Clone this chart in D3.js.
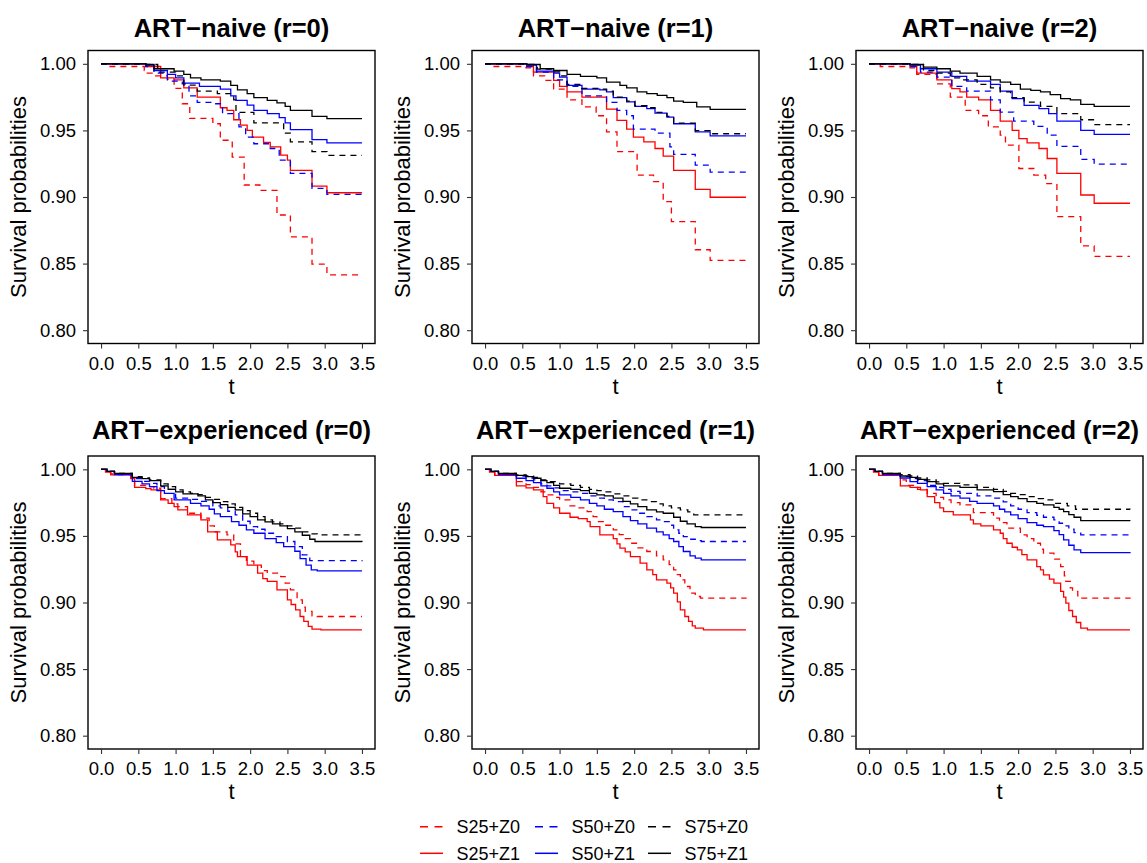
<!DOCTYPE html>
<html>
<head>
<meta charset="utf-8">
<script src="https://cdn.jsdelivr.net/npm/d3@7"></script>
<style>
  html, body { margin: 0; padding: 0; background: #fff; }
  svg text { font-family: "Liberation Sans", Arial, Helvetica, sans-serif; fill: #000; }
</style>
</head>
<body>
<svg id="chart" width="1147" height="863"></svg>
<script>
// ---- Axis ticks -----------------------------------------------------------
const xTicks = [0, 0.5, 1.0, 1.5, 2.0, 2.5, 3.0, 3.5];
const yTicks = [0.80, 0.85, 0.90, 0.95, 1.00];

// ---- Series ---------------------------------------------------------------
const seriesNames = ["S25+Z0", "S25+Z1", "S50+Z0", "S50+Z1", "S75+Z0", "S75+Z1"];
const seriesColors = ["#ff0000", "#ff0000", "#0000ff", "#0000ff", "#000000", "#000000"];
const seriesDashed = [true, false, true, false, true, false];

// ---- Survival curves, [time, survival] at each step ----------------------
// ART-naive, r = 0
const naiveR0_S25Z0 = [[0,1],[0.1,0.998],[0.58,0.995],[0.62,0.993],[0.71,0.991],[0.89,0.9885],[0.98,0.9815],[1.09,0.970],[1.19,0.959],[1.5,0.955],[1.6,0.9426],[1.76,0.930],[1.92,0.909],[2.13,0.905],[2.36,0.8865],[2.54,0.870],[2.83,0.8496],[3.03,0.8416],[3.46,0.8416]];
const naiveR0_S25Z1 = [[0,1],[0.6,0.998],[0.8,0.9895],[0.98,0.988],[1.11,0.982],[1.29,0.975],[1.6,0.967],[1.69,0.965],[1.78,0.958],[1.87,0.954],[1.96,0.950],[2.03,0.945],[2.18,0.941],[2.27,0.9377],[2.41,0.9314],[2.5,0.9277],[2.54,0.920],[2.83,0.9082],[3.03,0.9032],[3.5,0.9032]];
const naiveR0_S50Z0 = [[0,1],[0.6,0.998],[0.71,0.993],[0.89,0.987],[1.09,0.985],[1.18,0.976],[1.29,0.971],[1.52,0.970],[1.63,0.9626],[1.85,0.9526],[1.94,0.945],[2.05,0.940],[2.27,0.9364],[2.39,0.9277],[2.54,0.9177],[2.83,0.9065],[3.03,0.902],[3.5,0.902]];
const naiveR0_S50Z1 = [[0,1],[0.6,0.999],[0.71,0.995],[0.89,0.992],[1.0,0.9895],[1.11,0.9855],[1.32,0.983],[1.6,0.981],[1.74,0.976],[1.81,0.9726],[1.96,0.969],[2.05,0.965],[2.23,0.9626],[2.39,0.9596],[2.47,0.9556],[2.54,0.9506],[2.83,0.9431],[3.03,0.9406],[3.5,0.9406]];
const naiveR0_S75Z0 = [[0,1],[0.6,0.9995],[0.76,0.9938],[1.0,0.991],[1.11,0.984],[1.29,0.9795],[1.56,0.9776],[1.78,0.973],[1.81,0.9635],[2.05,0.9556],[2.45,0.948],[2.54,0.9414],[2.83,0.934],[3.03,0.9312],[3.5,0.9312]];
const naiveR0_S75Z1 = [[0,1],[0.6,0.9995],[0.71,0.9963],[0.98,0.9945],[1.11,0.992],[1.2,0.9895],[1.34,0.988],[1.6,0.987],[1.74,0.9838],[1.83,0.9805],[1.96,0.9776],[2.05,0.9746],[2.23,0.9726],[2.36,0.9706],[2.47,0.968],[2.54,0.965],[2.83,0.9606],[3.03,0.9589],[3.5,0.9589]];

// ART-naive, r = 1
const naiveR1_S25Z0 = [[0,1],[0.1,0.998],[0.55,0.997],[0.65,0.991],[0.8,0.9875],[0.92,0.981],[1.1,0.973],[1.3,0.9676],[1.49,0.961],[1.63,0.9489],[1.77,0.934],[2.04,0.9165],[2.26,0.9115],[2.39,0.8965],[2.5,0.8815],[2.82,0.8604],[3.02,0.8524],[3.5,0.8524]];
const naiveR1_S25Z1 = [[0,1],[0.56,0.998],[0.65,0.9938],[0.92,0.9875],[1.0,0.983],[1.1,0.979],[1.3,0.975],[1.63,0.966],[1.77,0.9576],[1.9,0.951],[1.99,0.945],[2.13,0.9414],[2.28,0.9364],[2.39,0.9307],[2.53,0.920],[2.82,0.9057],[3.02,0.8998],[3.5,0.8998]];
const naiveR1_S50Z0 = [[0,1],[0.56,0.998],[0.69,0.9938],[0.92,0.988],[1.1,0.983],[1.3,0.976],[1.63,0.971],[1.77,0.965],[1.9,0.961],[1.99,0.951],[2.28,0.948],[2.48,0.9377],[2.53,0.932],[2.82,0.924],[3.02,0.9187],[3.5,0.9187]];
const naiveR1_S50Z1 = [[0,1],[0.56,0.999],[0.69,0.9945],[0.92,0.993],[1.0,0.990],[1.1,0.9838],[1.3,0.981],[1.54,0.9805],[1.63,0.979],[1.72,0.9746],[1.9,0.9715],[2.01,0.968],[2.17,0.9663],[2.28,0.963],[2.44,0.960],[2.53,0.955],[2.82,0.9489],[3.02,0.9459],[3.5,0.9459]];
const naiveR1_S75Z0 = [[0,1],[0.56,0.9995],[0.7,0.996],[0.92,0.994],[1.0,0.991],[1.1,0.9845],[1.3,0.9815],[1.54,0.981],[1.63,0.9795],[1.72,0.975],[1.9,0.972],[2.01,0.9685],[2.17,0.967],[2.28,0.9635],[2.44,0.9605],[2.53,0.9555],[2.82,0.9499],[3.02,0.9475],[3.5,0.9475]];
const naiveR1_S75Z1 = [[0,1],[0.56,0.9995],[0.74,0.9963],[0.92,0.995],[1.1,0.992],[1.28,0.9905],[1.5,0.9895],[1.63,0.9863],[1.81,0.9838],[1.9,0.982],[2.04,0.979],[2.17,0.9776],[2.31,0.9763],[2.44,0.9746],[2.53,0.972],[2.66,0.971],[2.84,0.9676],[3.02,0.9658],[3.5,0.9658]];

// ART-naive, r = 2
const naiveR2_S25Z0 = [[0,1],[0.15,0.998],[0.55,0.997],[0.64,0.992],[0.91,0.985],[1.09,0.975],[1.29,0.965],[1.47,0.961],[1.6,0.9526],[1.76,0.9464],[1.83,0.939],[2.01,0.9214],[2.21,0.9165],[2.37,0.910],[2.52,0.8853],[2.84,0.8633],[3.02,0.8554],[3.5,0.8554]];
const naiveR2_S25Z1 = [[0,1],[0.55,0.998],[0.64,0.993],[0.91,0.988],[1.11,0.9813],[1.22,0.979],[1.31,0.975],[1.47,0.973],[1.63,0.965],[1.76,0.957],[1.92,0.950],[2.01,0.9439],[2.12,0.9406],[2.28,0.9364],[2.39,0.9289],[2.52,0.9177],[2.84,0.9015],[3.02,0.8953],[3.5,0.8953]];
const naiveR2_S50Z0 = [[0,1],[0.55,0.998],[0.69,0.9938],[0.91,0.990],[1.11,0.983],[1.31,0.9795],[1.63,0.973],[1.76,0.9638],[1.94,0.957],[2.21,0.953],[2.39,0.9464],[2.52,0.938],[2.84,0.9282],[3.02,0.9247],[3.5,0.9247]];
const naiveR2_S50Z1 = [[0,1],[0.55,0.999],[0.69,0.9963],[0.91,0.9938],[1.11,0.9905],[1.31,0.987],[1.63,0.9845],[1.76,0.9795],[1.92,0.9738],[2.08,0.9688],[2.28,0.9663],[2.41,0.9626],[2.52,0.957],[2.84,0.950],[3.02,0.947],[3.5,0.947]];
const naiveR2_S75Z0 = [[0,1],[0.55,0.9995],[0.73,0.995],[0.91,0.993],[1.09,0.9895],[1.22,0.988],[1.45,0.9845],[1.63,0.982],[1.76,0.979],[1.9,0.9746],[2.08,0.9713],[2.3,0.968],[2.52,0.9626],[2.84,0.958],[3.02,0.9544],[3.5,0.9544]];
const naiveR2_S75Z1 = [[0,1],[0.55,0.9995],[0.73,0.9975],[0.91,0.9963],[1.09,0.9945],[1.22,0.993],[1.45,0.9905],[1.63,0.988],[1.76,0.9863],[1.9,0.9845],[2.03,0.981],[2.17,0.980],[2.3,0.979],[2.43,0.9768],[2.57,0.9738],[2.7,0.973],[2.84,0.9696],[3.02,0.968],[3.5,0.968]];

// ART-experienced, r = 0
const expR0_S25Z0 = [[0,1],[0.06,0.998],[0.13,0.9965],[0.4,0.9935],[0.45,0.988],[0.6,0.987],[0.71,0.9858],[0.8,0.978],[0.95,0.974],[1.03,0.972],[1.16,0.967],[1.34,0.9633],[1.45,0.9575],[1.52,0.953],[1.69,0.9508],[1.78,0.944],[1.87,0.9345],[1.95,0.931],[2.05,0.928],[2.15,0.924],[2.23,0.922],[2.41,0.9195],[2.47,0.9145],[2.54,0.9095],[2.63,0.902],[2.7,0.8965],[2.74,0.8933],[2.83,0.890],[2.9,0.8895],[3.5,0.8895]];
const expR0_S25Z1 = [[0,1],[0.06,0.998],[0.13,0.9958],[0.4,0.993],[0.45,0.9865],[0.6,0.9855],[0.67,0.9845],[0.8,0.977],[0.9,0.9745],[0.98,0.972],[1.03,0.9695],[1.16,0.9658],[1.34,0.962],[1.43,0.953],[1.56,0.947],[1.74,0.9433],[1.8,0.938],[1.83,0.9345],[1.96,0.928],[2.1,0.922],[2.17,0.918],[2.23,0.9158],[2.36,0.9095],[2.5,0.902],[2.55,0.8985],[2.61,0.8945],[2.67,0.8895],[2.72,0.8858],[2.78,0.882],[2.83,0.880],[2.95,0.8795],[3.5,0.8795]];
const expR0_S50Z0 = [[0,1],[0.08,0.9985],[0.18,0.996],[0.42,0.993],[0.55,0.991],[0.65,0.9895],[0.75,0.987],[0.85,0.985],[1.0,0.9783],[1.2,0.9775],[1.35,0.976],[1.5,0.9725],[1.6,0.971],[1.7,0.9685],[1.8,0.9658],[1.9,0.961],[2.0,0.957],[2.1,0.955],[2.2,0.952],[2.35,0.9495],[2.5,0.9458],[2.6,0.942],[2.7,0.9358],[2.8,0.9315],[3.5,0.931]];
const expR0_S50Z1 = [[0,1],[0.08,0.9985],[0.18,0.996],[0.42,0.991],[0.55,0.989],[0.65,0.987],[0.75,0.984],[0.85,0.982],[0.98,0.977],[1.2,0.9745],[1.34,0.9725],[1.45,0.970],[1.52,0.9665],[1.6,0.9645],[1.75,0.9608],[1.85,0.958],[1.95,0.9545],[2.05,0.952],[2.2,0.948],[2.35,0.945],[2.45,0.942],[2.6,0.9385],[2.67,0.933],[2.75,0.928],[2.82,0.9245],[2.9,0.9238],[3.5,0.9238]];
const expR0_S75Z0 = [[0,1],[0.08,0.9985],[0.18,0.997],[0.42,0.9945],[0.55,0.9935],[0.65,0.992],[0.8,0.989],[0.9,0.987],[1.0,0.9845],[1.1,0.983],[1.2,0.982],[1.3,0.981],[1.4,0.979],[1.5,0.9775],[1.6,0.9758],[1.7,0.974],[1.8,0.9715],[1.9,0.969],[2.0,0.967],[2.1,0.9645],[2.2,0.962],[2.3,0.9605],[2.4,0.959],[2.5,0.9575],[2.6,0.9558],[2.7,0.953],[2.8,0.9515],[2.9,0.9508],[3.5,0.9508]];
const expR0_S75Z1 = [[0,1],[0.08,0.9985],[0.18,0.997],[0.42,0.994],[0.55,0.993],[0.65,0.9915],[0.8,0.9875],[0.9,0.985],[1.0,0.983],[1.1,0.9815],[1.3,0.980],[1.4,0.977],[1.5,0.975],[1.6,0.9735],[1.7,0.9715],[1.8,0.9695],[1.9,0.9665],[2.0,0.9645],[2.1,0.962],[2.2,0.9605],[2.3,0.959],[2.4,0.9575],[2.5,0.9555],[2.6,0.953],[2.7,0.9505],[2.8,0.9475],[2.87,0.9458],[3.5,0.9455]];

// ART-experienced, r = 1
const expR1_S25Z0 = [[0,1],[0.06,0.998],[0.13,0.9955],[0.42,0.9908],[0.55,0.9885],[0.65,0.9865],[0.75,0.983],[0.83,0.9808],[0.92,0.979],[1.0,0.977],[1.14,0.9725],[1.25,0.971],[1.37,0.9683],[1.45,0.9645],[1.5,0.9608],[1.6,0.958],[1.72,0.9545],[1.8,0.951],[1.88,0.948],[1.95,0.9445],[2.05,0.941],[2.17,0.9383],[2.3,0.935],[2.39,0.932],[2.47,0.9285],[2.53,0.9245],[2.58,0.921],[2.62,0.917],[2.68,0.912],[2.75,0.907],[2.82,0.9045],[2.89,0.9033],[3.5,0.9028]];
const expR1_S25Z1 = [[0,1],[0.06,0.998],[0.13,0.9955],[0.42,0.9875],[0.55,0.986],[0.65,0.9845],[0.78,0.9795],[0.83,0.9745],[0.92,0.971],[1.0,0.967],[1.14,0.964],[1.25,0.963],[1.37,0.9608],[1.41,0.957],[1.54,0.9508],[1.72,0.948],[1.77,0.944],[1.81,0.9408],[1.88,0.938],[1.95,0.9345],[2.08,0.9295],[2.17,0.9245],[2.25,0.921],[2.3,0.917],[2.44,0.9145],[2.49,0.911],[2.53,0.907],[2.58,0.9005],[2.62,0.8945],[2.68,0.8895],[2.73,0.8858],[2.78,0.8825],[2.82,0.8808],[2.93,0.8795],[3.5,0.8795]];
const expR1_S50Z0 = [[0,1],[0.08,0.9985],[0.18,0.9965],[0.42,0.995],[0.55,0.9935],[0.65,0.992],[0.75,0.989],[0.83,0.9875],[0.92,0.986],[1.0,0.984],[1.15,0.983],[1.28,0.982],[1.4,0.980],[1.5,0.9783],[1.6,0.977],[1.72,0.9758],[1.85,0.972],[1.95,0.9695],[2.05,0.967],[2.17,0.9645],[2.3,0.962],[2.39,0.9608],[2.47,0.958],[2.53,0.9545],[2.6,0.952],[2.66,0.9495],[2.75,0.9475],[2.82,0.9465],[2.9,0.9458],[3.5,0.9458]];
const expR1_S50Z1 = [[0,1],[0.08,0.9985],[0.18,0.996],[0.42,0.9933],[0.55,0.9915],[0.65,0.990],[0.75,0.9875],[0.83,0.9858],[0.92,0.983],[1.0,0.9808],[1.15,0.979],[1.28,0.977],[1.4,0.9745],[1.5,0.9725],[1.6,0.970],[1.72,0.9683],[1.85,0.9645],[1.95,0.9615],[2.05,0.959],[2.17,0.9558],[2.3,0.953],[2.39,0.9508],[2.47,0.948],[2.53,0.9458],[2.6,0.942],[2.66,0.9383],[2.75,0.935],[2.82,0.9333],[2.9,0.932],[3.5,0.932]];
const expR1_S75Z0 = [[0,1],[0.08,0.9985],[0.18,0.997],[0.42,0.9958],[0.55,0.995],[0.65,0.994],[0.75,0.992],[0.83,0.9908],[1.0,0.989],[1.15,0.988],[1.28,0.9865],[1.4,0.985],[1.5,0.984],[1.6,0.983],[1.72,0.9815],[1.85,0.980],[1.95,0.9783],[2.05,0.977],[2.17,0.9758],[2.3,0.974],[2.39,0.9725],[2.5,0.971],[2.62,0.9695],[2.72,0.968],[2.8,0.9658],[3.5,0.9653]];
const expR1_S75Z1 = [[0,1],[0.08,0.9985],[0.18,0.997],[0.42,0.9955],[0.55,0.9945],[0.65,0.9933],[0.75,0.9915],[0.83,0.990],[0.92,0.988],[1.0,0.9858],[1.15,0.985],[1.28,0.984],[1.4,0.982],[1.5,0.9808],[1.6,0.980],[1.72,0.9783],[1.85,0.976],[1.95,0.974],[2.05,0.972],[2.17,0.9695],[2.3,0.968],[2.39,0.967],[2.53,0.964],[2.62,0.961],[2.71,0.959],[2.82,0.957],[2.9,0.9563],[3.5,0.9563]];

// ART-experienced, r = 2
const expR2_S25Z0 = [[0,1],[0.06,0.998],[0.13,0.9955],[0.42,0.992],[0.5,0.988],[0.65,0.985],[0.78,0.982],[0.9,0.979],[1.0,0.977],[1.1,0.975],[1.22,0.9733],[1.4,0.9675],[1.67,0.9633],[1.75,0.960],[1.85,0.9558],[2.03,0.9508],[2.12,0.948],[2.21,0.9445],[2.3,0.940],[2.34,0.937],[2.48,0.9325],[2.57,0.927],[2.62,0.920],[2.64,0.9158],[2.7,0.911],[2.73,0.9083],[2.8,0.905],[2.84,0.9033],[3.5,0.9028]];
const expR2_S25Z1 = [[0,1],[0.06,0.998],[0.13,0.9955],[0.42,0.9875],[0.55,0.9865],[0.69,0.9845],[0.78,0.9795],[0.88,0.975],[0.95,0.971],[1.0,0.9683],[1.13,0.9658],[1.36,0.962],[1.4,0.959],[1.5,0.9575],[1.67,0.9545],[1.76,0.952],[1.8,0.948],[1.85,0.9445],[1.92,0.9415],[1.99,0.9395],[2.05,0.936],[2.12,0.932],[2.25,0.927],[2.3,0.9245],[2.34,0.9208],[2.42,0.9175],[2.48,0.9145],[2.57,0.9083],[2.61,0.904],[2.64,0.8995],[2.68,0.894],[2.73,0.8895],[2.78,0.885],[2.84,0.8808],[2.93,0.8795],[3.5,0.8795]];
const expR2_S50Z0 = [[0,1],[0.08,0.9985],[0.18,0.9965],[0.42,0.9945],[0.55,0.993],[0.65,0.9915],[0.78,0.988],[0.9,0.9865],[1.0,0.985],[1.1,0.9835],[1.22,0.982],[1.45,0.980],[1.67,0.9783],[1.8,0.9755],[1.9,0.9725],[2.0,0.970],[2.12,0.9675],[2.25,0.9655],[2.34,0.964],[2.48,0.962],[2.55,0.9595],[2.61,0.9575],[2.68,0.955],[2.75,0.9525],[2.84,0.9508],[3.5,0.950]];
const expR2_S50Z1 = [[0,1],[0.08,0.9985],[0.18,0.996],[0.42,0.9935],[0.55,0.9908],[0.65,0.9895],[0.78,0.987],[0.9,0.9845],[1.0,0.982],[1.1,0.980],[1.22,0.9783],[1.35,0.976],[1.45,0.9745],[1.67,0.9725],[1.75,0.970],[1.82,0.968],[1.9,0.9658],[2.0,0.963],[2.12,0.960],[2.25,0.958],[2.34,0.957],[2.48,0.954],[2.55,0.951],[2.61,0.947],[2.68,0.943],[2.75,0.9395],[2.84,0.9375],[3.5,0.937]];
const expR2_S75Z0 = [[0,1],[0.08,0.9985],[0.18,0.997],[0.42,0.996],[0.55,0.995],[0.65,0.9935],[0.78,0.992],[0.9,0.9905],[1.0,0.9895],[1.22,0.9883],[1.45,0.9865],[1.67,0.985],[1.8,0.9835],[1.9,0.982],[2.0,0.981],[2.12,0.9795],[2.25,0.978],[2.34,0.977],[2.48,0.9745],[2.66,0.9725],[2.77,0.970],[3.5,0.9698]];
const expR2_S75Z1 = [[0,1],[0.08,0.9985],[0.18,0.997],[0.42,0.995],[0.55,0.994],[0.65,0.9925],[0.78,0.9908],[0.9,0.989],[1.0,0.9875],[1.22,0.9865],[1.45,0.9845],[1.67,0.9833],[1.8,0.981],[1.9,0.9795],[2.0,0.978],[2.12,0.9758],[2.25,0.9745],[2.34,0.9733],[2.48,0.9715],[2.55,0.970],[2.61,0.9683],[2.68,0.966],[2.75,0.964],[2.84,0.9615],[3.5,0.9613]];

// ---- Panels (row-major) ---------------------------------------------------
const panelTitles = [
  "ART\u2212naive (r=0)", "ART\u2212naive (r=1)", "ART\u2212naive (r=2)",
  "ART\u2212experienced (r=0)", "ART\u2212experienced (r=1)", "ART\u2212experienced (r=2)"
];
const panelCurves = [
  [naiveR0_S25Z0, naiveR0_S25Z1, naiveR0_S50Z0, naiveR0_S50Z1, naiveR0_S75Z0, naiveR0_S75Z1],
  [naiveR1_S25Z0, naiveR1_S25Z1, naiveR1_S50Z0, naiveR1_S50Z1, naiveR1_S75Z0, naiveR1_S75Z1],
  [naiveR2_S25Z0, naiveR2_S25Z1, naiveR2_S50Z0, naiveR2_S50Z1, naiveR2_S75Z0, naiveR2_S75Z1],
  [expR0_S25Z0, expR0_S25Z1, expR0_S50Z0, expR0_S50Z1, expR0_S75Z0, expR0_S75Z1],
  [expR1_S25Z0, expR1_S25Z1, expR1_S50Z0, expR1_S50Z1, expR1_S75Z0, expR1_S75Z1],
  [expR2_S25Z0, expR2_S25Z1, expR2_S50Z0, expR2_S50Z1, expR2_S75Z0, expR2_S75Z1]
];

// ---- Layout ---------------------------------------------------------------
const svg = d3.select("#chart");
const colLeft = [88, 472, 856];
const rowTop = [50.5, 456];
const pw = 287, ph = 293;
const dash = "6,5";

// x from 0 to 3.5 and y from 0.80 to 1.00, each padded a little inside the frame
const x = d3.scaleLinear().domain([-0.175, 3.675]).range([0, pw]);
const y = d3.scaleLinear().domain([0.79, 1.01]).range([ph, 0]);

const line = d3.line()
  .x(d => x(d[0]))
  .y(d => y(d[1]))
  .curve(d3.curveStepAfter);

panelTitles.forEach((title, i) => {
  const col = i % 3, row = Math.floor(i / 3);
  const g = svg.append("g")
    .attr("transform", `translate(${colLeft[col]},${rowTop[row]})`);

  // curves
  panelCurves[i].forEach((pts, s) => {
    g.append("path")
      .datum(pts)
      .attr("d", line)
      .attr("fill", "none")
      .attr("stroke", seriesColors[s])
      .attr("stroke-width", 1.3)
      .attr("stroke-dasharray", seriesDashed[s] ? dash : null);
  });

  // frame
  g.append("rect")
    .attr("x", 0).attr("y", 0)
    .attr("width", pw).attr("height", ph)
    .attr("fill", "none")
    .attr("stroke", "#000")
    .attr("stroke-width", 1.4);

  // axes
  const xAxis = d3.axisBottom(x)
    .tickValues(xTicks)
    .tickFormat(d3.format(".1f"))
    .tickSize(5)
    .tickPadding(8);
  const gx = g.append("g")
    .attr("transform", `translate(0,${ph})`)
    .call(xAxis);

  const yAxis = d3.axisLeft(y)
    .tickValues(yTicks)
    .tickFormat(d3.format(".2f"))
    .tickSize(5)
    .tickPadding(7);
  const gy = g.append("g").call(yAxis);

  [gx, gy].forEach(a => {
    a.select(".domain").remove();
    a.selectAll(".tick line").attr("stroke", "#333").attr("stroke-width", 1.1);
    a.selectAll(".tick text")
      .attr("font-size", "18.5px")
      .attr("font-family", "'Liberation Sans', Arial, sans-serif")
      .attr("fill", "#1a1a1a");
  });

  // axis titles
  g.append("text")
    .attr("x", pw / 2)
    .attr("y", ph + 50)
    .attr("text-anchor", "middle")
    .attr("font-size", "22px")
    .text("t");

  g.append("text")
    .attr("transform", `translate(-62.5,${ph / 2}) rotate(-90)`)
    .attr("text-anchor", "middle")
    .attr("font-size", "22px")
    .text("Survival probabilities");

  // panel title
  g.append("text")
    .attr("x", pw / 2)
    .attr("y", row === 0 ? -14 : -17)
    .attr("text-anchor", "middle")
    .attr("font-size", "25.5px")
    .attr("font-weight", "bold")
    .text(title);
});

// ---- Legend (two rows, filled column by column) --------------------------
const legendKeyX = [420, 535, 648];
const legendRowY = [826.7, 853.3];
const legend = svg.append("g");
seriesNames.forEach((name, s) => {
  const col = Math.floor(s / 2), row = s % 2;
  const kx = legendKeyX[col], ky = legendRowY[row];
  legend.append("line")
    .attr("x1", kx).attr("x2", kx + 23)
    .attr("y1", ky).attr("y2", ky)
    .attr("stroke", seriesColors[s])
    .attr("stroke-width", 1.5)
    .attr("stroke-dasharray", seriesDashed[s] ? "8,6.5" : null);
  legend.append("text")
    .attr("x", kx + 36.5)
    .attr("y", ky)
    .attr("dy", "0.36em")
    .attr("font-size", "18px")
    .text(name);
});
</script>
</body>
</html>
